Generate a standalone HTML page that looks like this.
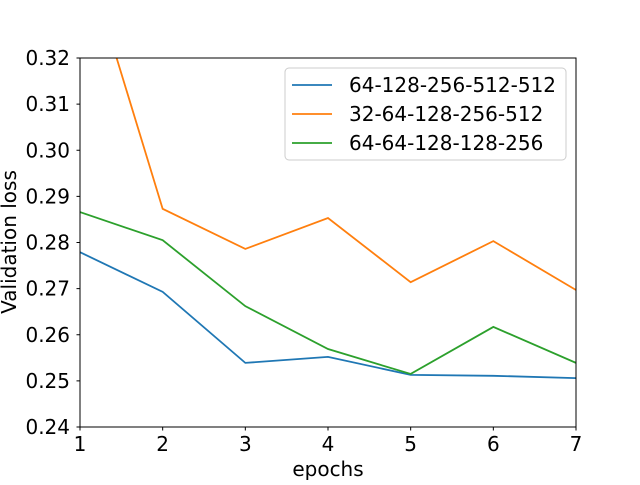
<!DOCTYPE html>
<html><head><meta charset="utf-8"><style>
body{margin:0;background:#fff}
svg text{font-family:"DejaVu Sans","Liberation Sans",sans-serif;fill:#000}
</style></head><body>
<svg id="chart" width="640" height="480" viewBox="0 0 640 480" xmlns="http://www.w3.org/2000/svg">
<defs><clipPath id="clip"><rect x="80" y="58" width="496" height="369"/></clipPath></defs>
<rect width="640" height="480" fill="#fff"/>
<g id="plot" clip-path="url(#clip)"></g>
<rect x="80" y="58" width="496" height="369" fill="none" stroke="#000" stroke-width="1"/>
<g id="axes"></g>
<text x="328" y="476" text-anchor="middle" font-size="20">epochs</text>
<text transform="translate(16,242) rotate(-90)" text-anchor="middle" font-size="20">Validation loss</text>
<g id="legend">
<rect x="285" y="68" width="281" height="92" rx="4" fill="#fff" fill-opacity="0.8" stroke="#ccc"/>
</g>
</svg>
<script>
const epochs=[1,2,3,4,5,6,7];
const seriesNames=["64-128-256-512-512","32-64-128-256-512","64-64-128-128-256"];
const seriesColors=["#1f77b4","#ff7f0e","#2ca02c"];
const blueVals=[0.2779,0.2693,0.2539,0.2552,0.2513,0.2511,0.2506];
const orangeVals=[0.346,0.2873,0.2786,0.2853,0.2714,0.2803,0.2697];
const greenVals=[0.2866,0.2805,0.2662,0.2569,0.2515,0.2617,0.2539];
const yTicks=[0.24,0.25,0.26,0.27,0.28,0.29,0.30,0.31,0.32];
const xTicks=[1,2,3,4,5,6,7];
const NS="http://www.w3.org/2000/svg";
const X=v=>80+(v-1)/6*496;
const Y=v=>427-(v-0.24)/0.08*369;
const plot=document.getElementById('plot'),axes=document.getElementById('axes'),legend=document.getElementById('legend');
function mk(t,a,p){const e=document.createElementNS(NS,t);for(const k in a)e.setAttribute(k,a[k]);p.appendChild(e);return e;}
yTicks.forEach(t=>{
 const l=mk('line',{x1:76.5,x2:80,y1:Y(t),y2:Y(t),stroke:'#000'},axes);
 
 
 const tx=mk('text',{x:70,y:Y(t)+7,'text-anchor':'end','font-size':'20'},axes);tx.textContent=t.toFixed(2);
 
 
});
xTicks.forEach(t=>{
 const l=mk('line',{x1:X(t),x2:X(t),y1:427,y2:430.5,stroke:'#000'},axes);
 
 
 const tx=mk('text',{x:X(t),y:451,'text-anchor':'middle','font-size':'20'},axes);tx.textContent=t;
 
 
});
[blueVals,orangeVals,greenVals].forEach((vals,i)=>{
 const p=mk('polyline',{points:vals.map((v,j)=>X(epochs[j])+','+Y(v)).join(' '),fill:'none',stroke:seriesColors[i],'stroke-width':1.8},plot);
 
 
 const ly=85+i*29;
 const ll=mk('line',{x1:292,x2:332,y1:ly,y2:ly,stroke:seriesColors[i],'stroke-width':1.8},legend);
 
 
 const lt=mk('text',{x:349,y:ly+7,'font-size':'20'},legend);lt.textContent=seriesNames[i];
 
 
});
</script>
</body></html>
